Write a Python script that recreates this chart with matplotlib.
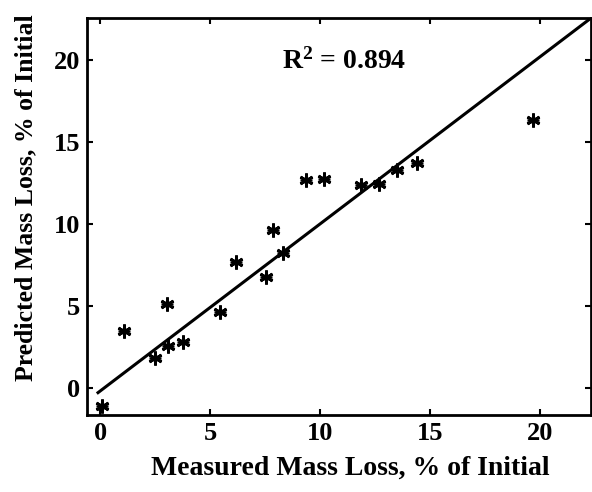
import matplotlib
matplotlib.use("Agg")
import matplotlib.pyplot as plt
import numpy as np

measured = [0.1, 1.1, 2.5, 3.05, 3.1, 3.75, 5.45, 6.15, 7.55, 7.85, 8.3, 9.35, 10.15, 11.85, 12.65, 13.5, 14.4, 19.65]
predicted = [-1.1, 3.45, 1.8, 5.1, 2.55, 2.8, 4.65, 7.65, 6.75, 9.65, 8.2, 12.7, 12.75, 12.35, 12.45, 13.3, 13.75, 16.35]
fit_x = [-0.1, 22.3]
fit_y = [-0.3, 22.56]
xticks = [0, 5, 10, 15, 20]
yticks = [0, 5, 10, 15, 20]
r2_text = r"R$^{2}$ = 0.894"

plt.rcParams['font.family'] = ['Liberation Serif', 'DejaVu Serif']
plt.rcParams['mathtext.fontset'] = 'custom'
plt.rcParams['mathtext.rm'] = 'Liberation Serif:bold'
plt.rcParams['mathtext.it'] = 'Liberation Serif:bold'
plt.rcParams['mathtext.bf'] = 'Liberation Serif:bold'

fig = plt.figure(figsize=(5.92, 4.92), dpi=100)
ax = fig.add_axes([0.147, 0.157, 0.851, 0.806])

ax.plot(fit_x, fit_y, color='black', lw=2.2)
ax.plot(measured, predicted, linestyle='none', marker=(6, 2, 0), markersize=10,
        markeredgewidth=2, color='black')
ax.plot(measured, predicted, linestyle='none', marker='+', markersize=9,
        markeredgewidth=1.8, color='black')

ax.set_xlim(-0.6, 22.3)
ax.set_ylim(-1.65, 22.56)
ax.set_xticks(xticks)
ax.set_yticks(yticks)
ax.tick_params(direction='in', length=4, width=1.5, top=True, right=True,
               labelsize=19, pad=5)
for lab in ax.get_xticklabels() + ax.get_yticklabels():
    lab.set_fontweight('bold')
for s in ax.spines.values():
    s.set_linewidth(2)

ax.text(11.1, 19.9, r2_text, ha='center', va='center', fontsize=20, fontweight='bold')
ax.set_xlabel("Measured Mass Loss, % of Initial", fontsize=20, fontweight='bold')
ax.set_ylabel("Predicted Mass Loss, % of Initial", fontsize=18.5, fontweight='bold')
ax.xaxis.set_label_coords(0.522, -0.103)
ax.yaxis.set_label_coords(-0.099, 0.547)

fig.savefig("out.png", dpi=100)
